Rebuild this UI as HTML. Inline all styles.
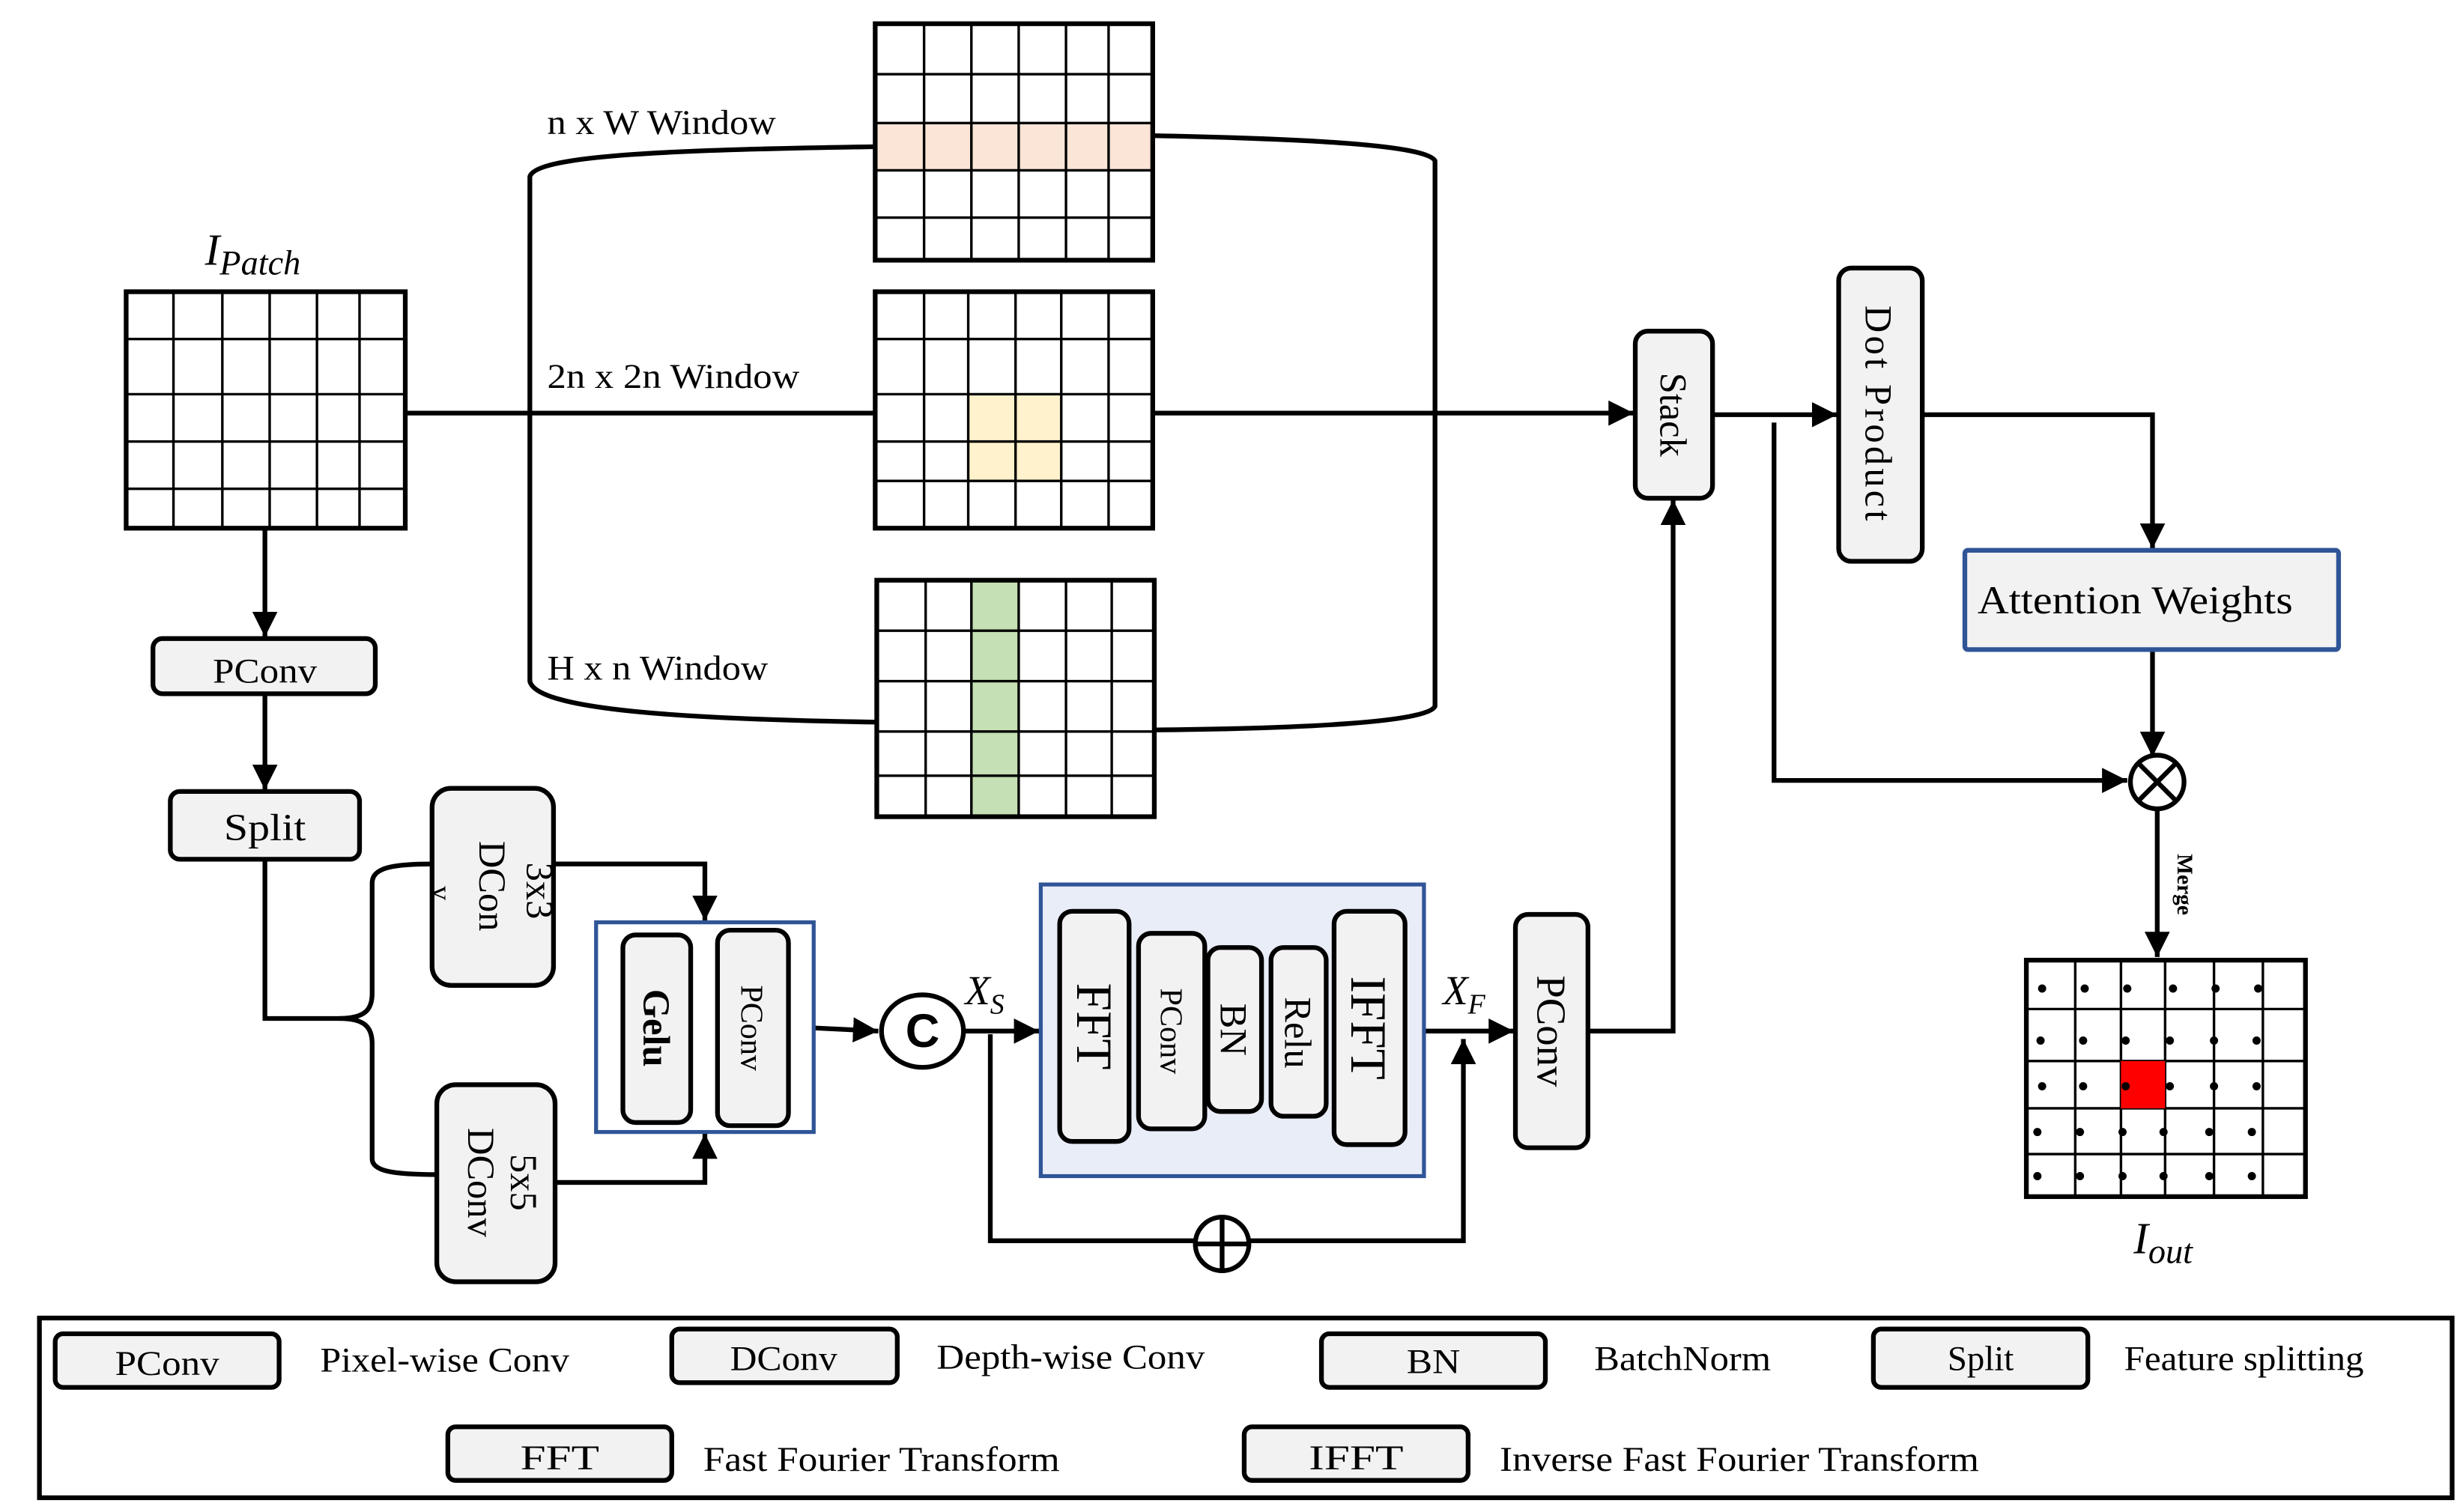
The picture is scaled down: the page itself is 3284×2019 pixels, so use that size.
<!DOCTYPE html>
<html><head><meta charset="utf-8"><style>html,body{margin:0;padding:0;background:#fff}svg{display:block}</style></head><body>
<svg width="3284" height="2019" viewBox="0 0 1560 959" xmlns="http://www.w3.org/2000/svg" font-family="Liberation Serif, serif">
<defs>
<marker id="a" markerWidth="8" markerHeight="8" refX="7" refY="4" orient="auto" markerUnits="userSpaceOnUse"><path d="M0,0 L0,0 L8,4 L0,8 z" transform="scale(2) translate(-4,-2)" fill="#000"/></marker>
<marker id="ar" viewBox="0 0 10 10" markerWidth="16" markerHeight="16" refX="10" refY="5" orient="auto" markerUnits="userSpaceOnUse"><path d="M0,0 L10,5 L0,10 z" fill="#000"/></marker>
</defs>
<rect width="1560" height="959" fill="#fff"/>
<!-- highlights -->
<rect x="555" y="78" width="176" height="30" fill="#fbe5d6"/>
<rect x="614" y="250" width="59" height="55" fill="#fff2cc"/>
<rect x="616" y="368" width="30" height="150" fill="#c5e0b4"/>
<g stroke="#000" fill="none">
<!-- grids -->
<g stroke-width="1.6">
<path d="M110,185V335M141,185V335M171,185V335M201,185V335M228,185V335M80,215H257M80,250H257M80,280H257M80,310H257"/>
<path d="M586,15V165M616,15V165M646,15V165M676,15V165M703,15V165M555,47H731M555,78H731M555,108H731M555,138H731"/>
<path d="M586,185V335M614,185V335M644,185V335M673,185V335M703,185V335M555,215H731M555,250H731M555,280H731M555,305H731"/>
<path d="M587,368V518M616,368V518M646,368V518M676,368V518M705,368V518M556,400H732M556,432H732M556,464H732M556,492H732"/>
<path d="M1316,609V759M1345,609V759M1373,609V759M1404,609V759M1435,609V759M1285,640H1462M1285,673H1462M1285,703H1462M1285,732H1462"/>
</g>
<g stroke-width="3">
<rect x="80" y="185" width="177" height="150"/>
<rect x="555" y="15" width="176" height="150"/>
<rect x="555" y="185" width="176" height="150"/>
<rect x="556" y="368" width="176" height="150"/>
<rect x="1285" y="609" width="177" height="150"/>
</g>
<!-- window connectors -->
<g stroke-width="3">
<path d="M257,262 H555"/>
<path d="M555,93 C430,95 340,98 336,112 V432 C340,450 430,456 555,458"/>
<path d="M731,86 C830,88 905,92 910,102 V448 C905,458 830,462 731,463"/>
<path d="M731,262 H1036" marker-end="url(#ar)"/>
<path d="M1086,263 H1165" marker-end="url(#ar)"/>
<path d="M1219,263 H1365 V348" marker-end="url(#ar)"/>
<path d="M1365,412 V480" marker-end="url(#ar)"/>
<path d="M1125,268 V495 H1349" marker-end="url(#ar)"/>
<path d="M1368,513 V607" marker-end="url(#ar)"/>
<path d="M168,335 V404" marker-end="url(#ar)"/>
<path d="M168,440 V501" marker-end="url(#ar)"/>
<path d="M168,545 V646 H215 C232,646 236,640 236,630 V560 C236,550 250,548 275,548"/>
<path d="M215,646 C232,646 236,652 236,662 V735 C236,743 250,745 277,745"/>
<path d="M351,548 H447 V584" marker-end="url(#ar)"/>
<path d="M352,750 H447 V719" marker-end="url(#ar)"/>
<path d="M516,652 L557,654" marker-end="url(#ar)"/>
<path d="M611,654 H659" marker-end="url(#ar)"/>
<path d="M903,654 H960" marker-end="url(#ar)"/>
<path d="M628,656 V787 H928 V659" marker-end="url(#ar)"/>
<path d="M1007,654 H1061 V317" marker-end="url(#ar)"/>
</g>
<!-- blue containers -->
<rect x="378" y="585" width="138" height="133" stroke="#2f5597" stroke-width="2.5" fill="#fff"/>
<rect x="660" y="561" width="243" height="185" stroke="#2f5597" stroke-width="2.5" fill="#e9edf7"/>
<!-- boxes -->
<g stroke-width="3" fill="#f2f2f2">
<rect x="1037" y="210" width="49" height="106" rx="8"/>
<rect x="1166" y="170" width="53" height="186" rx="8"/>
<rect x="1246" y="349" width="237" height="63" rx="2" stroke="#2f5597"/>
<rect x="97" y="405" width="141" height="35" rx="6"/>
<rect x="108" y="502" width="120" height="43" rx="6"/>
<rect x="274" y="500" width="77" height="125" rx="12"/>
<rect x="277" y="688" width="75" height="125" rx="12"/>
<rect x="395" y="593" width="43" height="119" rx="8"/>
<rect x="455" y="590" width="45" height="124" rx="8"/>
<rect x="672" y="578" width="44" height="146" rx="8"/>
<rect x="722" y="592" width="42" height="124" rx="8"/>
<rect x="766" y="601" width="34" height="104" rx="8"/>
<rect x="806" y="601" width="35" height="107" rx="8"/>
<rect x="846" y="578" width="45" height="148" rx="8"/>
<rect x="961" y="580" width="46" height="148" rx="8"/>
<!-- legend -->
<rect x="35" y="846" width="142" height="34" rx="5"/>
<rect x="426" y="843" width="143" height="34" rx="5"/>
<rect x="838" y="846" width="142" height="34" rx="5"/>
<rect x="1188" y="843" width="136" height="37" rx="5"/>
<rect x="284" y="905" width="142" height="34" rx="5"/>
<rect x="789" y="905" width="142" height="34" rx="5"/>
</g>
<rect x="25" y="836" width="1530" height="114" stroke-width="3"/>
<!-- circles -->
<ellipse cx="585" cy="654" rx="26" ry="23" stroke-width="3" fill="#fff"/>
<circle cx="1368" cy="496" r="17" stroke-width="3" fill="#fff"/>
<path d="M1356,484 L1380,508 M1380,484 L1356,508" stroke-width="3"/>
<circle cx="775" cy="789" r="17" stroke-width="3" fill="#fff"/>
<path d="M758,789 H792 M775,772 V806" stroke-width="3"/>
</g>
<rect x="1345" y="673" width="28" height="30" fill="#f00"/>
<g fill="#000">
<circle cx="1295" cy="627" r="2.6"/><circle cx="1322" cy="627" r="2.6"/><circle cx="1349" cy="627" r="2.6"/><circle cx="1378" cy="627" r="2.6"/><circle cx="1405" cy="627" r="2.6"/><circle cx="1432" cy="627" r="2.6"/>
<circle cx="1294" cy="660" r="2.6"/><circle cx="1321" cy="660" r="2.6"/><circle cx="1348" cy="660" r="2.6"/><circle cx="1376" cy="660" r="2.6"/><circle cx="1404" cy="660" r="2.6"/><circle cx="1431" cy="660" r="2.6"/>
<circle cx="1295" cy="689" r="2.6"/><circle cx="1321" cy="689" r="2.6"/><circle cx="1348" cy="689" r="2.6"/><circle cx="1376" cy="689" r="2.6"/><circle cx="1404" cy="689" r="2.6"/><circle cx="1431" cy="689" r="2.6"/>
<circle cx="1292" cy="718" r="2.6"/><circle cx="1319" cy="718" r="2.6"/><circle cx="1346" cy="718" r="2.6"/><circle cx="1372" cy="718" r="2.6"/><circle cx="1401" cy="718" r="2.6"/><circle cx="1428" cy="718" r="2.6"/>
<circle cx="1292" cy="746" r="2.6"/><circle cx="1319" cy="746" r="2.6"/><circle cx="1346" cy="746" r="2.6"/><circle cx="1372" cy="746" r="2.6"/><circle cx="1401" cy="746" r="2.6"/><circle cx="1428" cy="746" r="2.6"/>
</g>
<!-- text -->
<g fill="#000" font-size="22">
<text x="347" y="85" textLength="145" lengthAdjust="spacingAndGlyphs">n x W Window</text>
<text x="347" y="246" textLength="160" lengthAdjust="spacingAndGlyphs">2n x 2n Window</text>
<text x="347" y="431" textLength="140" lengthAdjust="spacingAndGlyphs">H x n Window</text>
<text x="168" y="433" text-anchor="middle" textLength="66" lengthAdjust="spacingAndGlyphs">PConv</text>
<text x="168" y="533" text-anchor="middle" font-size="24" textLength="52" lengthAdjust="spacingAndGlyphs">Split</text>
<text x="1254" y="389" font-size="25" textLength="200" lengthAdjust="spacingAndGlyphs">Attention Weights</text>
<text x="130" y="168" font-style="italic" font-size="28">I<tspan font-size="22" dy="6">Patch</tspan></text>
<text x="1353" y="795" font-style="italic" font-size="28">I<tspan font-size="22" dy="6">out</tspan></text>
<text x="612" y="637" font-style="italic" font-size="26">X<tspan font-size="18" dy="6">S</tspan></text>
<text x="915" y="637" font-style="italic" font-size="26">X<tspan font-size="18" dy="6">F</tspan></text>
<text x="585" y="664" text-anchor="middle" font-weight="bold" font-size="30" font-family="Liberation Sans, sans-serif">C</text>
<!-- rotated -->
<g font-size="24">
<text transform="translate(1053,263) rotate(90)" text-anchor="middle">Stack</text>
<text transform="translate(1183,263) rotate(90)" text-anchor="middle" letter-spacing="2">Dot Product</text>
<text transform="translate(408,652) rotate(90)" text-anchor="middle" font-weight="bold">Gelu</text>
<text transform="translate(470,652) rotate(90)" text-anchor="middle" font-size="20">PConv</text>
<text transform="translate(683,651) rotate(90)" text-anchor="middle" font-size="32">FFT</text>
<text transform="translate(736,654) rotate(90)" text-anchor="middle" font-size="20">PConv</text>
<text transform="translate(774,653) rotate(90)" text-anchor="middle">BN</text>
<text transform="translate(815,655) rotate(90)" text-anchor="middle">Relu</text>
<text transform="translate(857,652) rotate(90)" text-anchor="middle" font-size="32">IFFT</text>
<text transform="translate(975,654) rotate(90)" text-anchor="middle" font-size="26">PConv</text>
<text transform="translate(334,565) rotate(90)" text-anchor="middle">3x3</text>
<text transform="translate(304,562) rotate(90)" text-anchor="middle">DCon</text>
<text transform="translate(274,562) rotate(90)" font-size="18">v</text>
<text transform="translate(324,750) rotate(90)" text-anchor="middle">5x5</text>
<text transform="translate(297,750) rotate(90)" text-anchor="middle">DConv</text>
<text transform="translate(1381,561) rotate(90)" text-anchor="middle" font-size="14" font-weight="bold">Merge</text>
</g>
<!-- legend text -->
<text x="106" y="872" text-anchor="middle" textLength="66" lengthAdjust="spacingAndGlyphs">PConv</text>
<text x="203" y="870" textLength="158" lengthAdjust="spacingAndGlyphs">Pixel-wise  Conv</text>
<text x="497" y="869" text-anchor="middle" textLength="68" lengthAdjust="spacingAndGlyphs">DConv</text>
<text x="594" y="868" textLength="170" lengthAdjust="spacingAndGlyphs">Depth-wise  Conv</text>
<text x="909" y="871" text-anchor="middle" textLength="34" lengthAdjust="spacingAndGlyphs">BN</text>
<text x="1011" y="869" textLength="112" lengthAdjust="spacingAndGlyphs">BatchNorm</text>
<text x="1256" y="869" text-anchor="middle" textLength="42" lengthAdjust="spacingAndGlyphs">Split</text>
<text x="1347" y="869" textLength="152" lengthAdjust="spacingAndGlyphs">Feature splitting</text>
<text x="355" y="932" text-anchor="middle" textLength="50" lengthAdjust="spacingAndGlyphs">FFT</text>
<text x="446" y="933" textLength="226" lengthAdjust="spacingAndGlyphs">Fast Fourier  Transform</text>
<text x="860" y="932" text-anchor="middle" textLength="60" lengthAdjust="spacingAndGlyphs">IFFT</text>
<text x="951" y="933" textLength="304" lengthAdjust="spacingAndGlyphs">Inverse Fast Fourier  Transform</text>
</g>
</svg>
</body></html>
